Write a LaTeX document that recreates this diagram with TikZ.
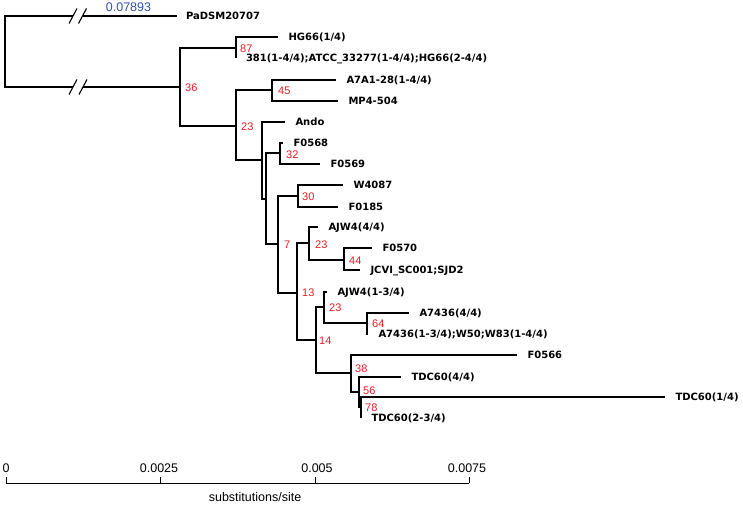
\documentclass[tikz,border=0pt]{standalone}
\usepackage{fontspec}
\setmainfont{Liberation Sans}
\newfontfamily\leaffont{DejaVu Sans}
\usepackage{tikz}

\definecolor{bootred}{RGB}{237,28,36}
\definecolor{lenblue}{RGB}{46,84,166}

\tikzset{
  br/.style={line width=1.1pt},
  leaf/.style={anchor=west, inner sep=0pt, outer xsep=10.5pt, font=\leaffont\bfseries\fontsize{10}{12}\selectfont, text height=7.3pt, text depth=0pt},
  boot/.style={anchor=west, inner sep=0pt, text=bootred, font=\fontsize{11}{13}\selectfont, text height=7.9pt, text depth=0pt},
  scl/.style={anchor=base, inner sep=0pt, font=\fontsize{12.5}{14}\selectfont},
}

\begin{document}
\begin{tikzpicture}[x=1pt,y=-1pt]
        \useasboundingbox (0,0) rectangle (743,505);
        % inner nodes of the tree
        \coordinate (root) at (5,52);
        \coordinate (n36) at (180,87);
        \coordinate (n87) at (236,48);
        \coordinate (n23a) at (236,126);
        \coordinate (n45) at (272,90);
        \coordinate (nand) at (262,160);
        \coordinate (nrest) at (266,199);
        \coordinate (n32) at (280,153);
        \coordinate (n7) at (278,244);
        \coordinate (n30) at (298,196);
        \coordinate (n13) at (297,293);
        \coordinate (n23b) at (309,243);
        \coordinate (n44) at (344,260);
        \coordinate (n14) at (316,340);
        \coordinate (n23c) at (324,307);
        \coordinate (n64) at (367,323);
        \coordinate (n38) at (351,373);
        \coordinate (n56) at (359,392);
        \coordinate (n78) at (361,407);
        % breaks on the long branches
        \coordinate (brkT) at (73,16);
        \coordinate (brkT2) at (82.5,16);
        \coordinate (brkB) at (73,87);
        \coordinate (brkB2) at (83,87);

        % leaves
        \node[leaf, outer xsep=9pt] (pa) at (177,16) {PaDSM20707};
        \node[leaf] (hg) at (278,37) {HG66(1/4)};
        \node[leaf, outer xsep=10pt] (atcc) at (236,58) {381(1-4/4);ATCC\_33277(1-4/4);HG66(2-4/4)};
        \node[leaf] (a7a1) at (336,80) {A7A1-28(1-4/4)};
        \node[leaf] (mp4) at (338,101) {MP4-504};
        \node[leaf] (ando) at (285,122) {Ando};
        \node[leaf] (f0568) at (283,143) {F0568};
        \node[leaf] (f0569) at (320,164) {F0569};
        \node[leaf] (w4087) at (343,185) {W4087};
        \node[leaf] (f0185) at (338,207) {F0185};
        \node[leaf] (ajw44) at (318,227) {AJW4(4/4)};
        \node[leaf] (f0570) at (372,248) {F0570};
        \node[leaf] (jcvi) at (360,270) {JCVI\_SC001;SJD2};
        \node[leaf] (ajw413) at (327,292) {AJW4(1-3/4)};
        \node[leaf] (a74364) at (409,313) {A7436(4/4)};
        \node[leaf] (a7436w) at (368,334) {A7436(1-3/4);W50;W83(1-4/4)};
        \node[leaf] (f0566) at (517,355) {F0566};
        \node[leaf] (tdc44) at (401,377) {TDC60(4/4)};
        \node[leaf] (tdc14) at (665,397) {TDC60(1/4)};
        \node[leaf] (tdc23) at (361,418) {TDC60(2-3/4)};

        % branches
        \draw[br] (root) |- (brkT); \draw[br] (brkT2) -- (pa);
        \draw[br] (root) |- (brkB); \draw[br] (brkB2) -- (n36);
        \foreach \b in {brkT,brkT2,brkB,brkB2}
            \draw[br] ([shift={(-4,7.5)}]\b) -- ([shift={(4,-7.5)}]\b); % //
        \draw[br] (n36) |- (n87);  \draw[br] (n36) |- (n23a);
        \draw[br] (n87) |- (hg);   \draw[br] (n87) |- (atcc);
        \draw[br] (n23a) |- (n45); \draw[br] (n23a) |- (nand);
        \draw[br] (n45) |- (a7a1); \draw[br] (n45) |- (mp4);
        \draw[br] (nand) |- (ando); \draw[br] (nand) |- (nrest);
        \draw[br] (nrest) |- (n32); \draw[br] (nrest) |- (n7);
        \draw[br] (n32) |- (f0568); \draw[br] (n32) |- (f0569);
        \draw[br] (n7) |- (n30);   \draw[br] (n7) |- (n13);
        \draw[br] (n30) |- (w4087); \draw[br] (n30) |- (f0185);
        \draw[br] (n13) |- (n23b); \draw[br] (n13) |- (n14);
        \draw[br] (n23b) |- (ajw44); \draw[br] (n23b) |- (n44);
        \draw[br] (n44) |- (f0570); \draw[br] (n44) |- (jcvi);
        \draw[br] (n14) |- (n23c); \draw[br] (n14) |- (n38);
        \draw[br] (n23c) |- (ajw413); \draw[br] (n23c) |- (n64);
        \draw[br] (n64) |- (a74364); \draw[br] (n64) |- (a7436w);
        \draw[br] (n38) |- (f0566); \draw[br] (n38) |- (n56);
        \draw[br] (n56) |- (tdc44); \draw[br] (n56) |- (n78);
        \draw[br] (n78) |- (tdc14); \draw[br] (n78) |- (tdc23);

        % branch length and bootstrap values
        \node[inner sep=0pt, text=lenblue, font=\fontsize{12.5}{14}\selectfont] (len) at (128.5,7.5) {0.07893};
        \node[boot] (b36) at (185,87.5) {36};
        \node[boot] (b87) at (240,49) {87};
        \node[boot] (b23a) at (241,127) {23};
        \node[boot] (b45) at (278,91) {45};
        \node[boot] (b32) at (286,155) {32};
        \node[boot] (b30) at (302,197) {30};
        \node[boot] (b7) at (284,245) {7};
        \node[boot] (b23b) at (315,245) {23};
        \node[boot] (b44) at (349,260.5) {44};
        \node[boot] (b13) at (302,293) {13};
        \node[boot] (b23c) at (329,308) {23};
        \node[boot] (b64) at (372,324) {64};
        \node[boot] (b14) at (319,341) {14};
        \node[boot] (b38) at (355,369) {38};
        \node[boot] (b56) at (363,391) {56};
        \node[boot] (b78) at (365,408) {78};

        % scale bar
        \coordinate (s0) at (6,483);
        \coordinate (s1) at (160,483);
        \coordinate (s2) at (315,483);
        \coordinate (s3) at (469,483);
        \draw[line width=1pt] (s0) -- (s3);
        \foreach \t in {s0,s1,s2,s3}
            \draw[line width=1pt] (\t) -- ++(0,-6); % tick
        \node[scl] (t0) at (6,472) {0};
        \node[scl] (t1) at (159,472) {0.0025};
        \node[scl] (t2) at (317,472) {0.005};
        \node[scl] (t3) at (467,472) {0.0075};
        \node[scl] (unit) at (255,501) {substitutions/site};
    \end{tikzpicture}
\end{document}
